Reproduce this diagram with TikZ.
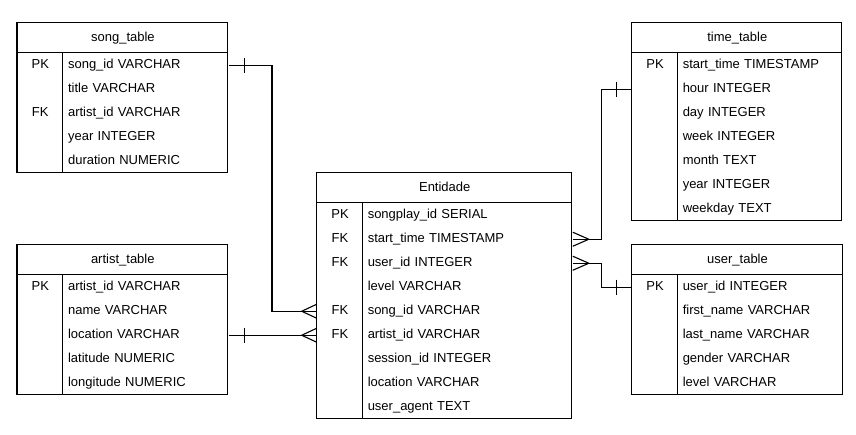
\documentclass[tikz,border=0pt]{standalone}
\usepackage{fontspec}
\setmainfont{Liberation Sans}
\usetikzlibrary{calc}
\newcommand{\ertable}[7]{% name, x, y(top, down), width, title, rows count, rows
  \pgfmathsetmacro\fw{#4-55.5}
  \node[hdr, minimum width=#4pt, anchor=north west] (#1) at (#2,-#3) {#5};
  \foreach[count=\i] \k/\f in {#7}{
    \node[keycell, anchor=north west] (#1-k\i) at (#2,-#3-30-24*\i+24) {\k};
    \node[fieldcell, text width=\fw pt, anchor=north west] (#1-f\i) at (#2+45.5,-#3-30-24*\i+24) {\f};
  }
  \draw[frame] (#2,-#3) rectangle ++(#4,-30-24*#6);
  \draw[frame] (#2,-#3-30) -- ++(#4,0);
  \draw[frame] (#2+45.5,-#3-30) -- ++(0,-24*#6);
}
\begin{document}
\begin{tikzpicture}[x=1pt,y=1pt,line width=1.1pt,
  txt/.style={font=\fontsize{13}{15}\selectfont, text height=9.5pt, text depth=2.5pt},
  hdr/.style={txt, minimum height=30pt, inner sep=0pt},
  keycell/.style={txt, minimum width=45.5pt, minimum height=24pt, inner sep=0pt},
  fieldcell/.style={txt, minimum height=24pt, inner ysep=0pt, inner xsep=5pt, align=left},
  frame/.style={draw=black, line cap=rect},
  link/.style={draw=black, line join=miter}]
\fill[white] (0,0) rectangle (856,-435);
\useasboundingbox (0,0) rectangle (856,-435);

\ertable{song}{17}{22.7}{210.7}{song\_table}{5}{PK/song\_id VARCHAR, /title VARCHAR, FK/artist\_id VARCHAR, /year INTEGER, /duration NUMERIC}
\ertable{artist}{17}{244.7}{210.5}{artist\_table}{5}{PK/artist\_id VARCHAR, /name VARCHAR, /location VARCHAR, /latitude NUMERIC, /longitude NUMERIC}
\ertable{ent}{316.7}{172.7}{255}{Entidade}{9}{PK/songplay\_id SERIAL, FK/start\_time TIMESTAMP, FK/user\_id INTEGER, /level VARCHAR, FK/song\_id VARCHAR, FK/artist\_id VARCHAR, /session\_id INTEGER, /location VARCHAR, /user\_agent TEXT}
\ertable{time}{631.7}{22.7}{210}{time\_table}{7}{PK/start\_time TIMESTAMP, /hour INTEGER, /day INTEGER, /week INTEGER, /month TEXT, /year INTEGER, /weekday TEXT}
\ertable{user}{631.7}{244.7}{210.5}{user\_table}{5}{PK/user\_id INTEGER, /first\_name VARCHAR, /last\_name VARCHAR, /gender VARCHAR, /level VARCHAR}

\coordinate (j1) at (272,0);
\coordinate (j2) at (601.7,0);

% song -> Entidade
\draw[link] (song-f1.east) -- (song-f1.east -| j1) -- (j1 |- ent-k5.west) -- (ent-k5.west);
\draw[link] ([xshift=15.5pt]song-f1.east) ++(0,7.5) -- ++(0,-15);
\draw[link] ([xshift=-15pt]ent-k5.west) -- ++(15,7) ([xshift=-15pt]ent-k5.west) -- ++(15,-7);

% artist -> Entidade
\draw[link] (artist-f3.east) -- (ent-k6.west);
\draw[link] ([xshift=15.5pt]artist-f3.east) ++(0,7.5) -- ++(0,-15);
\draw[link] ([xshift=-15pt]ent-k6.west) -- ++(15,7) ([xshift=-15pt]ent-k6.west) -- ++(15,-7);

% Entidade -> time
\draw[link] (ent-f2.east) -- (ent-f2.east -| j2) -- (j2 |- time-k2.west) -- (time-k2.west);
\draw[link] ([xshift=-15.5pt]time-k2.west) ++(0,7.5) -- ++(0,-15);
\draw[link] ([xshift=16pt]ent-f2.east) -- ++(-16,7) ([xshift=16pt]ent-f2.east) -- ++(-16,-7);

% Entidade -> user
\draw[link] (ent-f3.east) -- (ent-f3.east -| j2) -- (j2 |- user-k1.west) -- (user-k1.west);
\draw[link] ([xshift=-15.5pt]user-k1.west) ++(0,7.5) -- ++(0,-15);
\draw[link] ([xshift=16pt]ent-f3.east) -- ++(-16,7) ([xshift=16pt]ent-f3.east) -- ++(-16,-7);
\end{tikzpicture}
\end{document}
